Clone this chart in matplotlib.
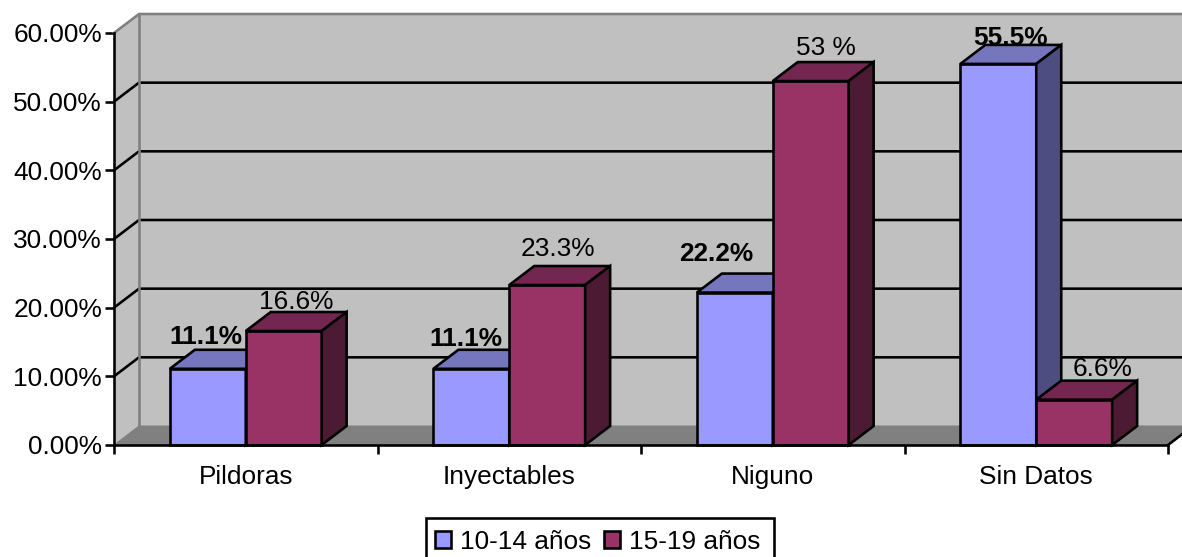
import matplotlib
matplotlib.use('Agg')
import matplotlib.pyplot as plt
from matplotlib.patches import Polygon, Patch, Rectangle

plt.rcParams['font.family'] = ['Liberation Sans', 'DejaVu Sans']

categories = ['Pildoras', 'Inyectables', 'Niguno', 'Sin Datos']
series_names = ['10-14 años', '15-19 años']
values_young = [11.1, 11.1, 22.2, 55.5]
values_old = [16.6, 23.3, 53.0, 6.6]
labels_young = ['11.1%', '11.1%', '22.2%', '55.5%']
labels_old = ['16.6%', '23.3%', '53 %', '6.6%']
y_ticks = [0, 10, 20, 30, 40, 50, 60]

W, H = 1182, 557
# front plane of the box, in pixels
LEFT, RIGHT, TOP, BOTTOM = 114, 1168, 33, 445
PX = 0.72  # one pixel in points at dpi 100

fig = plt.figure(figsize=(W / 100, H / 100), dpi=100)
ax = fig.add_axes([LEFT / W, 1 - BOTTOM / H, (RIGHT - LEFT) / W, (BOTTOM - TOP) / H])
ax.set_xlim(0, len(categories))
ax.set_ylim(0, 60)

# depth of the 3d box in data units
DX = 25 / ((RIGHT - LEFT) / len(categories))
DY = 19 / ((BOTTOM - TOP) / 60)
BAR_W = 0.288
LW = 2.6 * PX
GREY = '#808080'
FS = 18.9
n = len(categories)


def poly(points, face, edge='none', lw=LW, z=1):
    ax.add_patch(Polygon(points, closed=True, facecolor=face, edgecolor=edge,
                         linewidth=lw, zorder=z, clip_on=False, joinstyle='miter'))


# walls and floor
poly([(0, 0), (DX, DY), (DX, 60 + DY), (0, 60)], '#C0C0C0')
poly([(DX, DY), (n + DX, DY), (n + DX, 60 + DY), (DX, 60 + DY)], '#C0C0C0')
poly([(0, 0), (DX, DY), (n + DX, DY), (n, 0)], GREY)

# gridlines run along the side wall and the back wall
for t in y_ticks[1:-1]:
    ax.plot([0, DX, n + DX], [t, t + DY, t + DY], color='black', lw=LW, zorder=2,
            clip_on=False, solid_capstyle='butt')
ax.plot([0, DX, n + DX], [60, 60 + DY, 60 + DY], color=GREY, lw=LW, zorder=2, clip_on=False)
ax.plot([DX, DX], [DY, 60 + DY], color=GREY, lw=LW, zorder=2, clip_on=False)
ax.plot([0, DX, n + DX], [0, DY, DY], color=GREY, lw=PX, zorder=2, clip_on=False)
ax.plot([n, n + DX], [0, DY], color='black', lw=LW, zorder=2, clip_on=False)

# labels go under the bars, the box tops may cover them
label_offsets_young = [(-2, 25), (-5, 23), (-19, 32), (12, 19)]
label_offsets_old = [(12, 22), (11, 29), (15, 26), (28, 24)]


def draw_bar(x, v, front, top, side, z):
    ax.bar(x, v, BAR_W, align='edge', color=front, edgecolor='black', linewidth=LW, zorder=z, clip_on=False)
    poly([(x, v), (x + DX, v + DY), (x + BAR_W + DX, v + DY), (x + BAR_W, v)], top, 'black', z=z)
    poly([(x + BAR_W, 0), (x + BAR_W + DX, DY), (x + BAR_W + DX, v + DY), (x + BAR_W, v)], side, 'black', z=z)


for i in range(n):
    x0 = i + 0.5 - BAR_W
    x1 = i + 0.5
    z = 4 + i * 2
    draw_bar(x0, values_young[i], '#9999FF', '#7676BF', '#4D4D80', z)
    draw_bar(x1, values_old[i], '#993366', '#732650', '#4D1A33', z + 1)
    dx, dy = label_offsets_young[i]
    ax.annotate(labels_young[i], (x0 + BAR_W / 2, values_young[i]),
                xytext=(dx * PX, dy * PX), textcoords='offset points',
                ha='center', va='baseline', fontsize=FS, fontweight='bold',
                color='black', zorder=3, annotation_clip=False)
    dx, dy = label_offsets_old[i]
    ax.annotate(labels_old[i], (x1 + BAR_W / 2, values_old[i]),
                xytext=(dx * PX, dy * PX), textcoords='offset points',
                ha='center', va='baseline', fontsize=FS,
                color='black', zorder=3, annotation_clip=False)

# axes
for name in ['top', 'right']:
    ax.spines[name].set_visible(False)
ax.spines['left'].set_linewidth(LW)
ax.spines['bottom'].set_linewidth(LW)
ax.spines['left'].set_zorder(20)
ax.spines['bottom'].set_zorder(20)
ax.set_facecolor('none')
ax.set_yticks(y_ticks)
ax.set_yticklabels(['%.2f%%' % t for t in y_ticks])
ax.set_xticks(range(n + 1))
ax.set_xticklabels([])
ax.set_xticks([i + 0.5 for i in range(n)], minor=True)
ax.set_xticklabels(categories, minor=True)
ax.tick_params(axis='y', length=9 * PX, width=LW, pad=3 * PX, labelsize=FS)
ax.tick_params(axis='x', which='major', length=9 * PX, width=LW)
ax.tick_params(axis='x', which='minor', length=0, pad=20 * PX, labelsize=FS)

# legend box runs past the bottom of the figure
fig.add_artist(Rectangle((426 / W, 1 - 562 / H), 348 / W, 44 / H, transform=fig.transFigure,
                         facecolor='white', edgecolor='black', linewidth=LW))
handles = [Patch(facecolor='#9999FF', edgecolor='black', linewidth=LW),
           Patch(facecolor='#993366', edgecolor='black', linewidth=LW)]
leg = fig.legend(handles, series_names, ncol=2, fontsize=FS, loc='center',
                 bbox_to_anchor=(597.5 / W, 1 - 542 / H), frameon=False,
                 handlelength=0.6, handleheight=0.6,
                 handletextpad=0.35, columnspacing=0.49, borderpad=0.3, borderaxespad=0)

fig.savefig('out.png', dpi=100)
